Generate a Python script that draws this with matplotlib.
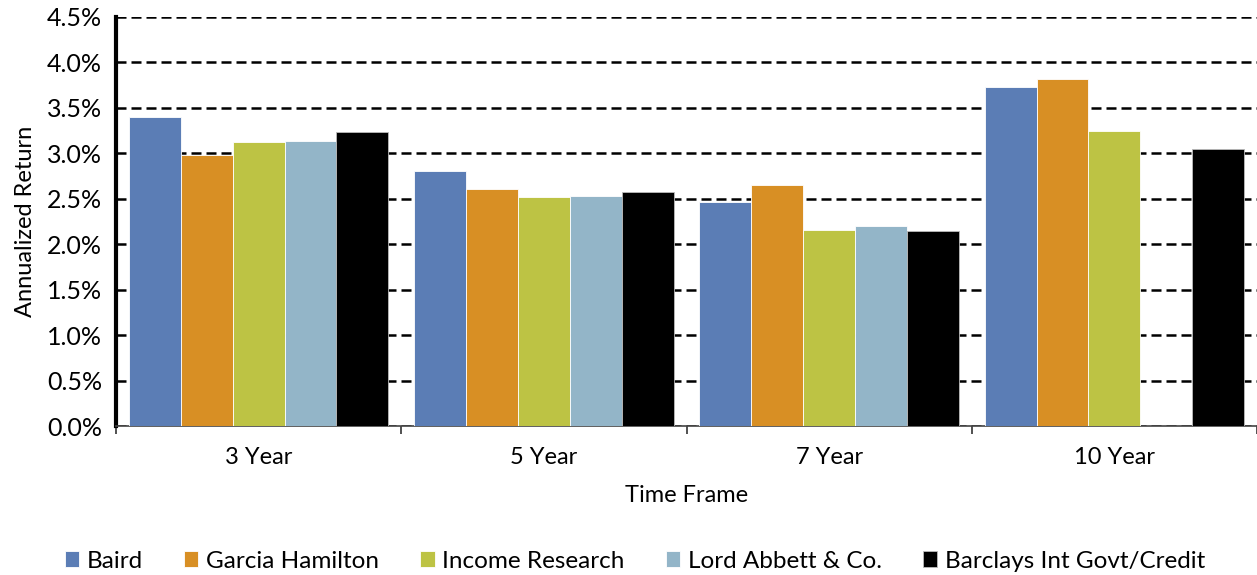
import numpy as np
import matplotlib
matplotlib.use("Agg")
import matplotlib.pyplot as plt
from matplotlib.ticker import FuncFormatter, MultipleLocator

plt.rcParams['font.family'] = ['Lato', 'DejaVu Sans']

categories = ["3 Year", "5 Year", "7 Year", "10 Year"]
series_names = ["Baird", "Garcia Hamilton", "Income Research", "Lord Abbett & Co.", "Barclays Int Govt/Credit"]
baird = [3.40, 2.81, 2.47, 3.73]
garcia = [2.98, 2.61, 2.65, 3.82]
income = [3.12, 2.52, 2.16, 3.25]
lord = [3.14, 2.53, 2.20, np.nan]
barclays = [3.24, 2.57, 2.15, 3.05]
series_values = [baird, garcia, income, lord, barclays]
colors = ["#5B7DB5", "#D88F24", "#BDC344", "#93B5C8", "#000000"]

fig = plt.figure(figsize=(12.57, 5.75), dpi=100)
ax = fig.add_axes([116/1257, 1-426/575, 1-116/1257, (426-17)/575])

x = np.arange(len(categories))
n = len(series_names)
bw = 0.182
for i, (name, vals, c) in enumerate(zip(series_names, series_values, colors)):
    offs = (i - (n-1)/2) * bw
    v = np.array(vals, dtype=float)
    ok = np.isfinite(v)
    ec = "#FFFFFF" if c != "#000000" else "#BBBBBB"
    ax.bar(x[ok] + offs, v[ok], width=bw, color=c, label=name, edgecolor=ec, linewidth=0.6, zorder=3)

ax.set_xlim(-0.5, len(categories) - 0.5)
ax.set_ylim(0, 4.5)
ax.yaxis.set_major_locator(MultipleLocator(0.5))
ax.yaxis.set_major_formatter(FuncFormatter(lambda v, p: f"{v:.1f}%"))
ax.grid(axis='y', color='black', linestyle=(0, (4, 2)), linewidth=1.8, zorder=1)

ax.set_xticks(x)
ax.set_xticklabels(categories)
ax.set_xticks(np.arange(len(categories) + 1) - 0.5, minor=True)
ax.tick_params(axis='x', which='major', length=0, pad=15, labelsize=17)
ax.tick_params(axis='x', which='minor', length=6, width=1.2, color='#333333', direction='out')
ax.tick_params(axis='y', which='major', length=0, pad=10, labelsize=18)

for s in ['top', 'right']:
    ax.spines[s].set_visible(False)
ax.spines['left'].set_linewidth(3)
ax.spines['left'].set_color('black')
ax.spines['bottom'].set_linewidth(1.2)
ax.spines['bottom'].set_color('#444444')

ax.set_ylabel("Annualized Return", fontsize=17, labelpad=8)
ax.set_xlabel("Time Frame", fontsize=17, labelpad=12)

handles, labels = ax.get_legend_handles_labels()
fig.legend(handles, labels, loc='center', bbox_to_anchor=(0.505, 1-561/575), ncol=5,
           frameon=False, fontsize=17.5, handlelength=0.6, handleheight=0.6,
           handletextpad=0.3, columnspacing=1.7)

fig.savefig("out.png", dpi=100)
